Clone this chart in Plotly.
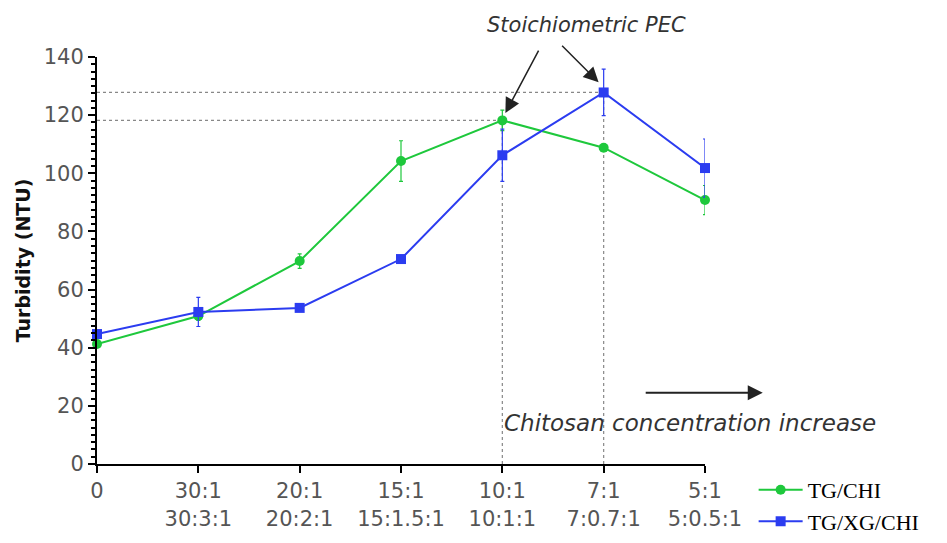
import plotly.graph_objects as go

# Mixing ratios (TG:CHI and TG:XG:CHI)
ratio_chi = ["0", "30:1", "20:1", "15:1", "10:1", "7:1", "5:1"]
ratio_xg = ["", "30:3:1", "20:2:1", "15:1.5:1", "10:1:1", "7:0.7:1", "5:0.5:1"]

# Turbidity (NTU) and standard deviations
tg_chi = [41.3, 50.9, 69.8, 104.2, 118.2, 108.8, 90.8]
tg_chi_sd = [1.0, 1.5, 2.5, 7.0, 3.5, 1.0, 5.0]
tg_xg_chi = [44.7, 52.3, 53.7, 70.5, 106.2, 127.8, 101.8]
tg_xg_chi_sd = [1.0, 5.0, 1.0, 1.0, 9.0, 8.0, 10.0]

x = list(range(len(ratio_chi)))
ticktext = [a if not b else f"{a}<br>{b}" for a, b in zip(ratio_chi, ratio_xg)]

GREEN = "#1ec83c"
BLUE = "#2b3cf0"
SANS = "DejaVu Sans"

fig = go.Figure()
fig.add_trace(go.Scatter(
    x=x, y=tg_chi, name="TG/CHI", mode="lines+markers",
    line=dict(color=GREEN, width=2),
    marker=dict(color=GREEN, size=10, symbol="circle"),
    error_y=dict(type="data", array=tg_chi_sd, color=GREEN, thickness=1.2, width=2),
    cliponaxis=False,
))
fig.add_trace(go.Scatter(
    x=x, y=tg_xg_chi, name="TG/XG/CHI", mode="lines+markers",
    line=dict(color=BLUE, width=2),
    marker=dict(color=BLUE, size=10, symbol="square"),
    error_y=dict(type="data", array=tg_xg_chi_sd, color=BLUE, thickness=1.2, width=2),
    cliponaxis=False,
))

# Dotted guides to the stoichiometric points (maximum turbidity of each series)
for series in (tg_chi, tg_xg_chi):
    i = series.index(max(series))
    guide = dict(type="line", layer="below", line=dict(color="#888888", width=1.2, dash="dot"))
    fig.add_shape(**guide, x0=0, x1=x[i], y0=series[i], y1=series[i])
    fig.add_shape(**guide, x0=x[i], x1=x[i], y0=0, y1=series[i])

ann_font = dict(family=SANS, size=21, color="#333333", style="italic")
fig.add_annotation(x=4.83, y=1.078, yref="paper", text="Stoichiometric PEC", showarrow=False,
                   font=ann_font, xanchor="center", yanchor="middle")
i1 = tg_chi.index(max(tg_chi))
i2 = tg_xg_chi.index(max(tg_xg_chi))
arrow = dict(showarrow=True, arrowhead=2, arrowsize=2, arrowwidth=1.5,
             arrowcolor="#222222", text="", axref="pixel", ayref="pixel")
fig.add_annotation(x=x[i1] + 0.03, y=tg_chi[i1] + 2.5, ax=34, ay=-64, **arrow)
fig.add_annotation(x=x[i2] - 0.05, y=tg_xg_chi[i2] + 3.5, ax=-38, ay=-38, **arrow)
fig.add_annotation(x=5.85, y=14, text="Chitosan concentration increase", showarrow=False,
                   font=dict(ann_font, size=23), xanchor="center", yanchor="middle")
fig.add_annotation(x=6.57, y=24.5, ax=5.4, ay=24.5, axref="x", ayref="y",
                   showarrow=True, arrowhead=2, arrowsize=1.5, arrowwidth=2,
                   arrowcolor="#222222", text="")

tick_font = dict(family=SANS, size=21, color="#555555")
fig.update_layout(
    width=947, height=543,
    margin=dict(l=97, r=242, t=57, b=79, autoexpand=False),
    paper_bgcolor="white", plot_bgcolor="white",
    showlegend=True,
    legend=dict(x=1.08, y=-0.012, xanchor="left", yanchor="top",
                font=dict(family="Liberation Serif, Times New Roman", size=22, color="#000000"),
                bgcolor="rgba(0,0,0,0)", itemwidth=44, tracegroupgap=0),
    xaxis=dict(
        range=[0, 6], tickvals=x, ticktext=ticktext, tickfont=tick_font, automargin=False,
        showgrid=False, zeroline=False, showline=True, linecolor="black", linewidth=2,
        ticks="outside", ticklen=7, tickwidth=2, tickcolor="black",
    ),
    yaxis=dict(
        range=[0, 140], dtick=20, tickfont=tick_font, automargin=False,
        showgrid=False, zeroline=False, showline=True, linecolor="black", linewidth=2,
        ticks="outside", ticklen=7, tickwidth=2, tickcolor="black",
        minor=dict(dtick=2.5, ticks="outside", ticklen=4, tickwidth=1.5, tickcolor="black"),
        title=dict(text="<b>Turbidity (NTU)</b>",
                   font=dict(family=SANS, size=19, color="#111111"),
                   standoff=8),
    ),
)

fig.write_html("out.html")
